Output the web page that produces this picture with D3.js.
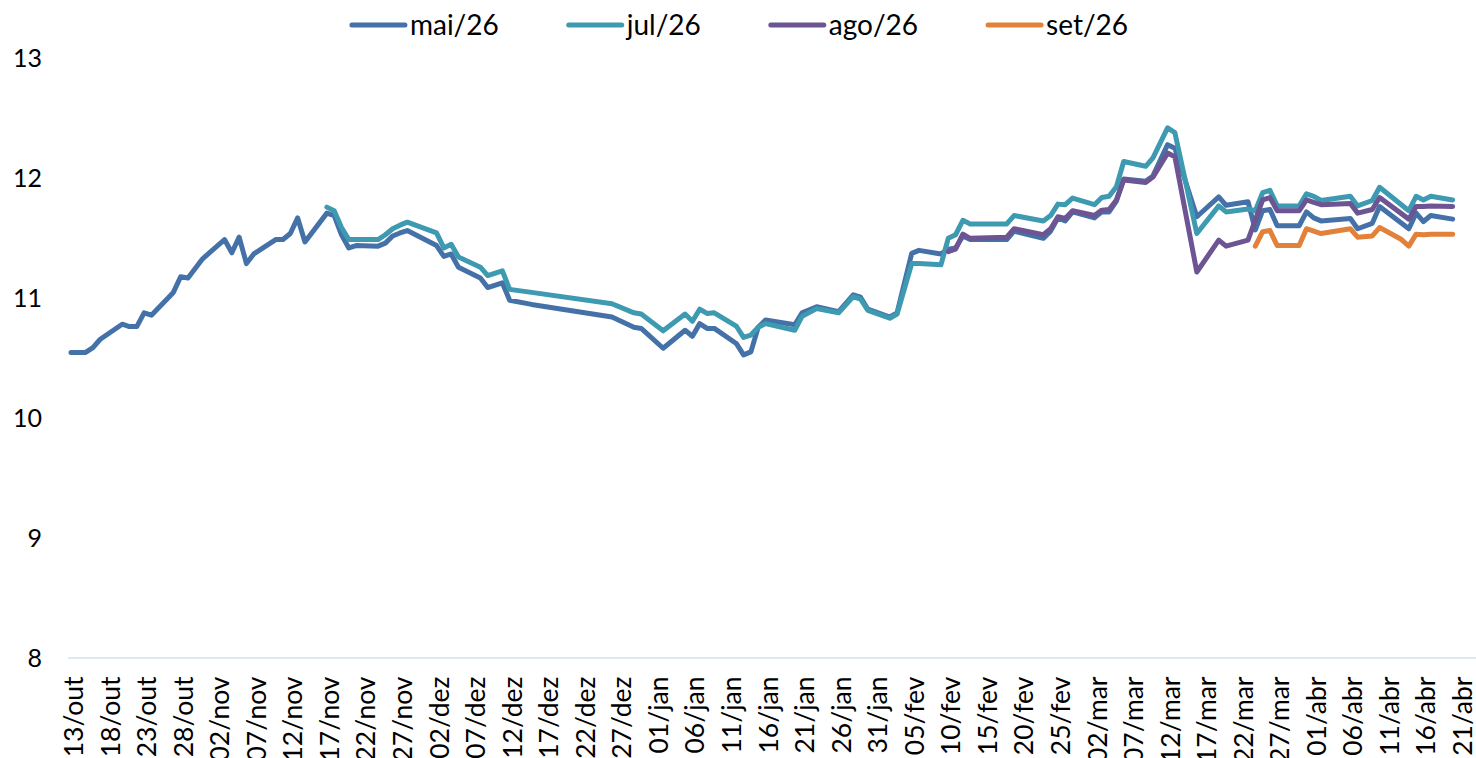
<!DOCTYPE html>
<html>
<head>
<meta charset="utf-8">
<script src="https://cdn.jsdelivr.net/npm/d3@7"></script>
<style>
  html, body { margin: 0; padding: 0; background: #ffffff; }
  svg { display: block; font-family: Lato, "Open Sans", sans-serif; }
</style>
</head>
<body>
<svg id="chart" width="1476" height="758"></svg>
<script>
// Trading dates (ISO) shared by all contracts
const dates = [
  "2025-10-13","2025-10-14","2025-10-15","2025-10-16","2025-10-17","2025-10-20","2025-10-21","2025-10-22","2025-10-23","2025-10-24","2025-10-27","2025-10-28","2025-10-29","2025-10-31",
  "2025-11-03","2025-11-04","2025-11-05","2025-11-06","2025-11-07","2025-11-10","2025-11-11","2025-11-12","2025-11-13","2025-11-14","2025-11-17","2025-11-18","2025-11-19","2025-11-20","2025-11-21","2025-11-24","2025-11-25","2025-11-26","2025-11-27","2025-11-28",
  "2025-12-02","2025-12-03","2025-12-04","2025-12-05","2025-12-08","2025-12-09","2025-12-11","2025-12-12","2025-12-15","2025-12-26","2025-12-29","2025-12-30",
  "2026-01-02","2026-01-05","2026-01-06","2026-01-07","2026-01-08","2026-01-09","2026-01-12","2026-01-13","2026-01-14","2026-01-15","2026-01-16","2026-01-20","2026-01-21","2026-01-23","2026-01-26","2026-01-28","2026-01-29","2026-01-30",
  "2026-02-02","2026-02-03","2026-02-05","2026-02-06","2026-02-09","2026-02-10","2026-02-11","2026-02-12","2026-02-13","2026-02-18","2026-02-19","2026-02-23","2026-02-24","2026-02-25","2026-02-26","2026-02-27",
  "2026-03-02","2026-03-03","2026-03-04","2026-03-05","2026-03-06","2026-03-09","2026-03-10","2026-03-12","2026-03-13","2026-03-16","2026-03-19","2026-03-20","2026-03-23","2026-03-24","2026-03-25","2026-03-26","2026-03-27","2026-03-30","2026-03-31",
  "2026-04-01","2026-04-02","2026-04-06","2026-04-07","2026-04-09","2026-04-10","2026-04-13","2026-04-14","2026-04-15","2026-04-16","2026-04-17","2026-04-20"
];

const mai26 = [
  10.54,10.54,10.54,10.58,10.65,10.775,10.755,10.755,10.87,10.85,11.04,11.17,11.16,11.32,
  11.48,11.37,11.50,11.28,11.36,11.48,11.48,11.53,11.66,11.46,11.70,11.68,11.52,11.41,11.43,11.425,11.45,11.51,11.535,11.555,
  11.43,11.34,11.36,11.25,11.16,11.08,11.12,10.975,10.94,10.835,10.75,10.74,
  10.575,10.725,10.675,10.78,10.74,10.74,10.615,10.52,10.545,10.75,10.81,10.77,10.87,10.92,10.88,11.02,11.00,10.90,
  10.835,10.87,11.365,11.39,11.36,11.40,11.41,11.51,11.48,11.48,11.55,11.49,11.55,11.66,11.635,11.71,
  11.66,11.71,11.71,11.80,11.985,11.965,12.01,12.27,12.24,11.67,11.835,11.765,11.795,11.56,11.72,11.73,11.595,11.595,11.71,
  11.66,11.635,11.655,11.57,11.615,11.755,null,11.57,11.70,11.63,11.68,11.65
];

const jul26 = [
  null,null,null,null,null,null,null,null,null,null,null,null,null,null,
  null,null,null,null,null,null,null,null,null,null,11.75,11.72,11.58,11.48,11.48,11.48,11.52,11.57,11.60,11.625,
  11.535,11.41,11.44,11.335,11.25,11.18,11.22,11.065,11.04,10.945,10.87,10.86,
  10.72,10.86,10.80,10.90,10.865,10.87,10.76,10.665,10.685,10.75,10.78,10.725,10.84,10.905,10.87,11.005,10.985,10.89,
  10.825,10.86,11.28,11.28,11.27,11.49,11.52,11.64,11.61,11.61,11.68,11.635,11.68,11.775,11.77,11.825,
  11.77,11.83,11.84,11.92,12.13,12.09,12.16,12.41,12.37,11.53,11.76,11.71,11.735,11.72,11.87,11.89,11.76,11.76,11.86,
  11.84,11.805,11.84,11.76,11.805,11.915,null,11.72,11.84,11.81,11.84,11.81
];

const ago26 = [
  null,null,null,null,null,null,null,null,null,null,null,null,null,null,
  null,null,null,null,null,null,null,null,null,null,null,null,null,null,null,null,null,null,null,null,
  null,null,null,null,null,null,null,null,null,null,null,null,
  null,null,null,null,null,null,null,null,null,null,null,null,null,null,null,null,null,null,
  null,null,null,null,null,11.38,11.40,11.525,11.49,11.50,11.57,11.52,11.57,11.67,11.655,11.72,
  11.68,11.725,11.73,11.81,11.975,11.955,12.00,12.20,12.17,11.21,11.475,11.425,11.475,null,11.81,11.83,11.72,11.72,11.81,
  11.79,11.77,11.78,11.70,11.73,11.83,null,11.65,11.755,11.755,11.76,11.755
];

const set26 = [
  null,null,null,null,null,null,null,null,null,null,null,null,null,null,
  null,null,null,null,null,null,null,null,null,null,null,null,null,null,null,null,null,null,null,null,
  null,null,null,null,null,null,null,null,null,null,null,null,
  null,null,null,null,null,null,null,null,null,null,null,null,null,null,null,null,null,null,
  null,null,null,null,null,null,null,null,null,null,null,null,null,null,null,null,
  null,null,null,null,null,null,null,null,null,null,null,null,null,11.425,11.545,11.555,11.43,11.43,11.57,
  11.55,11.53,11.57,11.50,11.51,11.58,11.48,11.425,11.525,11.52,11.525,11.525
];

const seriesNames  = ["mai/26", "jul/26", "ago/26", "set/26"];
const seriesValues = [mai26, jul26, ago26, set26];
const seriesColors = ["#4471a7", "#3d9ab0", "#6c5592", "#e2813a"];

const yTicks = [8, 9, 10, 11, 12, 13];
const monthAbbr = ["jan","fev","mar","abr","mai","jun","jul","ago","set","out","nov","dez"];
const axisStart = "2025-10-13";
const axisEnd   = "2026-04-21";
const tickStepDays = 5;

// ---------------------------------------------------------------------------
const svg = d3.select("#chart");
const parse = d3.utcParse("%Y-%m-%d");
const dateObjs = dates.map(parse);

const x = d3.scaleUtc()
  .domain([parse(axisStart), parse(axisEnd)])
  .range([71, 1460]);

const y = d3.scaleLinear()
  .domain([8, 13])
  .range([657.5, 57]);

// x baseline
svg.append("line")
  .attr("x1", 68).attr("x2", 1476)
  .attr("y1", y(8) + 0.5).attr("y2", y(8) + 0.5)
  .attr("stroke", "#d5dfef")
  .attr("stroke-width", 1.5);

// y axis labels
const yAxis = d3.axisLeft(y).tickValues(yTicks).tickSize(0).tickPadding(0).tickFormat(d3.format("d"));
const gy = svg.append("g").attr("transform", "translate(42,0)").call(yAxis);
gy.select(".domain").remove();
gy.selectAll("text")
  .attr("fill", "#000")
  .style("font-size", "25px")
  .style("font-family", "Lato, 'Open Sans', sans-serif")
  .attr("dy", "0.36em");

// x axis labels every 5 days
const tickDates = d3.range(0, d3.utcDay.count(parse(axisStart), parse(axisEnd)) + 1, tickStepDays)
  .map(k => d3.utcDay.offset(parse(axisStart), k));
const fmtTick = d => d3.utcFormat("%d")(d) + "/" + monthAbbr[d.getUTCMonth()];
const xAxis = d3.axisBottom(x).tickValues(tickDates).tickSize(0).tickPadding(0).tickFormat(fmtTick);
const gx = svg.append("g").attr("transform", `translate(0,${y(8)})`).call(xAxis);
gx.select(".domain").remove();
gx.selectAll("text")
  .attr("fill", "#000")
  .style("font-size", "26.5px")
  .style("font-family", "Lato, 'Open Sans', sans-serif")
  .attr("text-anchor", "end")
  .attr("transform", "rotate(-90)")
  .attr("x", -19)
  .attr("y", 2)
  .attr("dy", "0.36em");

// series lines
const line = d3.line()
  .x(d => x(d.date))
  .y(d => y(d.value));

seriesValues.forEach((vals, i) => {
  const pts = dateObjs
    .map((date, j) => ({ date, value: vals[j] }))
    .filter(p => p.value !== null);
  svg.append("path")
    .datum(pts)
    .attr("fill", "none")
    .attr("stroke", seriesColors[i])
    .attr("stroke-width", 5)
    .attr("stroke-linejoin", "round")
    .attr("stroke-linecap", "round")
    .attr("d", line);
});

// legend, laid out from measured text widths and centred
const legend = svg.append("g");
const items = legend.selectAll("g.item").data(seriesNames).join("g").attr("class", "item");
items.append("line")
  .attr("x1", 0).attr("x2", 53)
  .attr("y1", 25).attr("y2", 25)
  .attr("stroke", (d, i) => seriesColors[i])
  .attr("stroke-width", 5)
  .attr("stroke-linecap", "round");
items.append("text")
  .attr("x", 58).attr("y", 35)
  .attr("fill", "#000")
  .style("font-size", "28px")
  .text(d => d);
let cursor = 0;
const offsets = [];
items.each(function () {
  offsets.push(cursor);
  const w = d3.select(this).select("text").node().getComputedTextLength();
  cursor += 58 + w + 70;
});
const total = cursor - 70;
const startX = 740 - total / 2;
items.attr("transform", (d, i) => `translate(${startX + offsets[i]},0)`);
</script>
</body>
</html>
